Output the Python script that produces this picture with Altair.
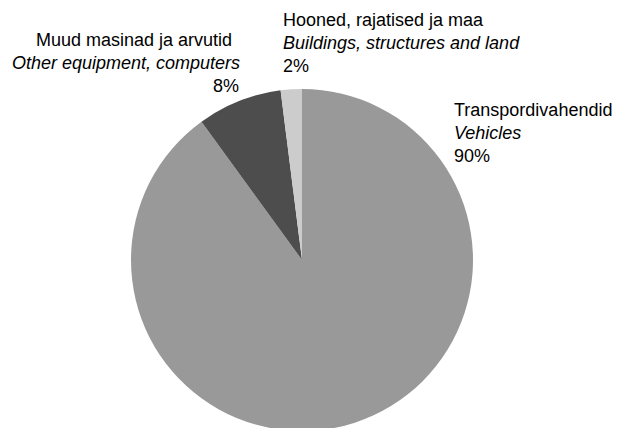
import altair as alt
import pandas as pd

# Data
categories = ["Transpordivahendid", "Muud masinad ja arvutid", "Hooned, rajatised ja maa"]
categories_en = ["Vehicles", "Other equipment, computers", "Buildings, structures and land"]
shares = [90, 8, 2]
order = [1, 2, 3]
colors = ["#999999", "#4d4d4d", "#cccccc"]

df = pd.DataFrame({"cat": categories, "share": shares, "ord": order})

W, H = 605, 420
FONT = "Liberation Sans"
FS = 18

pie = alt.Chart(df).mark_arc(outerRadius=171, stroke=None).encode(
    theta=alt.Theta("share:Q", stack=True),
    order=alt.Order("ord:Q"),
    color=alt.Color("cat:N", scale=alt.Scale(domain=categories, range=colors), legend=None),
    x=alt.value(294),
    y=alt.value(252),
)

# label layout: (category index, x, baseline y of first line, align)
label_layout = [
    (0, 446, 108, "left"),
    (1, 232, 38, "right"),
    (2, 275, 18, "left"),
]
LINE = 23

layers = [pie]
for idx, lx, ly, al in label_layout:
    lines = [
        (categories[idx], "normal", lx - (8 if idx == 1 else 0)),
        (categories_en[idx], "italic", lx),
        (f"{shares[idx]}%", "normal", lx - (1 if idx == 1 else 0)),
    ]
    for k, (txt, style, xx) in enumerate(lines):
        t = alt.Chart(pd.DataFrame({"t": [txt]})).mark_text(
            align=al, baseline="alphabetic", font=FONT, fontSize=FS,
            fontStyle=style, color="#000000",
        ).encode(
            text="t:N",
            x=alt.value(xx),
            y=alt.value(ly + k * LINE),
        )
        layers.append(t)

chart = alt.layer(*layers).properties(
    width=W, height=H, padding=0, autosize=alt.AutoSizeParams(type="none")
).configure_view(stroke=None)

chart.save("out.html", embed_options={"renderer": "svg", "actions": False})
